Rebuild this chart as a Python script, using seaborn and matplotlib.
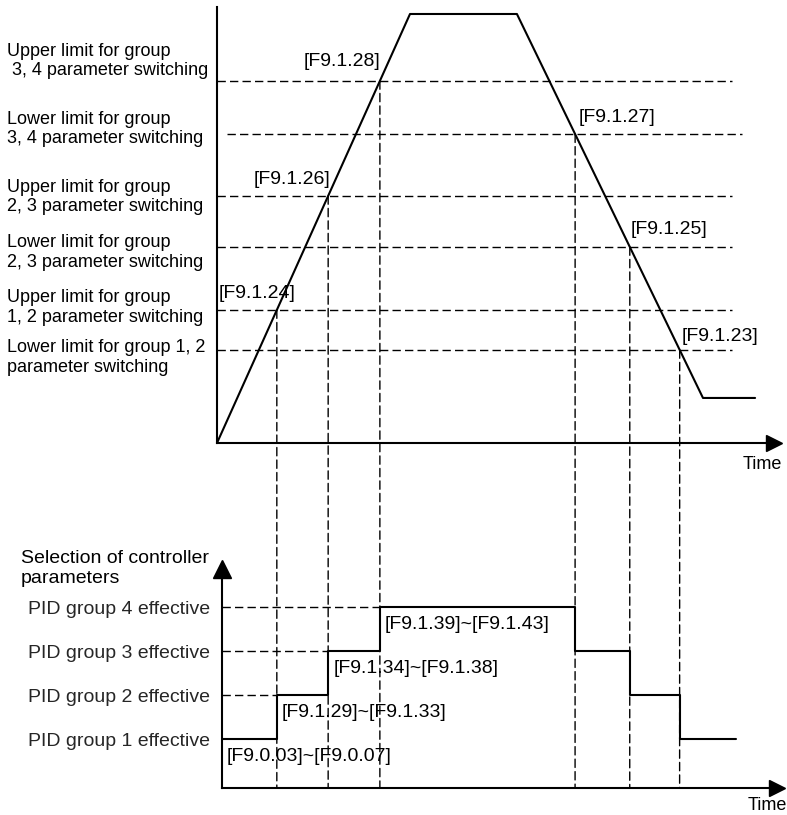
import numpy as np
import matplotlib
matplotlib.use("Agg")
import matplotlib.pyplot as plt
import seaborn as sns
from matplotlib.patches import ConnectionPatch

# Feedback curve (trapezoid): time vs value (% of peak)
time_pts = [0.0, 10.0, 15.54, 25.18, 27.88]
value_pts = [0.0, 100.0, 100.0, 10.5, 10.5]

# Switching thresholds, groups (1,2), (2,3), (3,4)
upper_limits = [31.0, 57.6, 84.4]
lower_limits = [21.7, 45.7, 72.0]
upper_codes = ["[F9.1.24]", "[F9.1.26]", "[F9.1.28]"]
lower_codes = ["[F9.1.23]", "[F9.1.25]", "[F9.1.27]"]

threshold_names = [
    "Lower limit for group 1, 2\nparameter switching",
    "Upper limit for group\n1, 2 parameter switching",
    "Lower limit for group\n2, 3 parameter switching",
    "Upper limit for group\n2, 3 parameter switching",
    "Lower limit for group\n3, 4 parameter switching",
    "Upper limit for group\n 3, 4 parameter switching",
]

# PID groups
groups = [1, 2, 3, 4]
group_names = ["PID group 1 effective", "PID group 2 effective",
               "PID group 3 effective", "PID group 4 effective"]
group_params = ["[F9.0.03]~[F9.0.07]", "[F9.1.29]~[F9.1.33]",
                "[F9.1.34]~[F9.1.38]", "[F9.1.39]~[F9.1.43]"]
step_end = 26.89

W, H = 787, 815
def fx(p):
    return p / W
def fy(p):
    return 1 - p / H

sns.set_theme(style="white")
plt.rcParams['font.family'] = ['Liberation Sans', 'DejaVu Sans']
plt.rcParams['text.color'] = 'black'

fig = plt.figure(figsize=(W / 100, H / 100), dpi=100)
ax_top = fig.add_axes([fx(217), fy(443), (774 - 217) / W, (443 - 7) / H])
ax_bot = fig.add_axes([fx(222), fy(788), (777 - 222) / W, (788 - 569) / H])

dash = (0, (6, 3))
lw_solid = 1.5
lw_dash = 1.0

for ax in (ax_top, ax_bot):
    ax.set_facecolor('none')
    for s in ('top', 'right'):
        ax.spines[s].set_visible(False)
    for s in ('left', 'bottom'):
        ax.spines[s].set_color('black')
        ax.spines[s].set_linewidth(lw_solid)
    ax.set_xticks([])

ax_top.set_xlim(0, 28.86)
ax_top.set_ylim(0, 101.63)
ax_top.set_yticks([])
ax_bot.set_xlim(0.259, 29.02)
ax_bot.set_ylim(-0.1136, 4.864)

# curve
sns.lineplot(x=time_pts, y=value_pts, ax=ax_top, color='black',
             linewidth=lw_solid, zorder=3)

# crossing times
rise_t, rise_v = time_pts[:2], value_pts[:2]
fall_t, fall_v = time_pts[2:4][::-1], value_pts[2:4][::-1]
up_t = [float(np.interp(v, rise_v, rise_t)) for v in upper_limits]
dn_t = [float(np.interp(v, fall_v, fall_t)) for v in lower_limits]

# horizontal threshold lines
for v in upper_limits + lower_limits:
    x0, x1 = 0, 26.7
    if v == lower_limits[2]:
        x0, x1 = 0.52, 27.2
    ax_top.plot([x0, x1], [v, v], color='black', lw=lw_dash, ls=dash, zorder=2)

# vertical dashed lines from crossing down to lower time axis
for t, v in zip(up_t + dn_t, upper_limits + lower_limits):
    con = ConnectionPatch(xyA=(t, v), coordsA=ax_top.transData,
                          xyB=(t, ax_bot.get_ylim()[0]), coordsB=ax_bot.transData,
                          color='black', lw=lw_dash, ls=dash, zorder=0.5)
    fig.add_artist(con)

# threshold codes next to crossings
up_off = [(19, 17), (2, 16), (0, 19)]
dn_off = [(2, 13), (1, 17), (3, 17)]
for t, v, c, o in zip(up_t, upper_limits, upper_codes, up_off):
    ax_top.annotate(c, xy=(t, v), xytext=o, textcoords='offset pixels',
                    ha='right', va='center', fontsize=14)
for t, v, c, o in zip(dn_t, lower_limits, lower_codes, dn_off):
    ax_top.annotate(c, xy=(t, v), xytext=o, textcoords='offset pixels',
                    ha='left', va='center', fontsize=14)

# threshold names on the left
name_y = [357.5, 307.5, 252.5, 197, 129, 61]
for name, y in zip(threshold_names, name_y):
    fig.text(fx(7), fy(y), name, ha='left', va='center', fontsize=13)

# step of effective PID group
x_start = ax_bot.get_xlim()[0]
step_t = [x_start, up_t[0], up_t[1], up_t[2], dn_t[2], dn_t[1], dn_t[0], step_end]
step_g = [1, 2, 3, 4, 3, 2, 1, 1]
sns.lineplot(x=step_t, y=step_g, ax=ax_bot, color='black', linewidth=lw_solid,
             drawstyle='steps-post', zorder=3)

starts = [x_start] + up_t
for g, t in zip(groups[1:], up_t):
    ax_bot.plot([x_start, t], [g, g], color='black', lw=lw_dash, ls=dash, zorder=2)
for g, t, p in zip(groups, starts, group_params):
    ax_bot.annotate(p, xy=(t, g), xytext=(5, -17), textcoords='offset pixels',
                    ha='left', va='center', fontsize=14)

ax_bot.set_yticks(groups, labels=group_names)
ax_bot.tick_params(axis='y', length=0, pad=8.6, labelsize=14)

fig.text(fx(21), fy(568.5), "Selection of controller\nparameters",
         ha='left', va='center', fontsize=14)

# axis arrows
ax_top.plot(1, 0, '>', color='black', markersize=11.5,
            transform=ax_top.transAxes, clip_on=False)
ax_bot.plot(1, 0, '>', color='black', markersize=12,
            transform=ax_bot.transAxes, clip_on=False)
ax_bot.plot(0, 1, '^', color='black', markersize=13,
            transform=ax_bot.transAxes, clip_on=False)

fig.text(fx(743), fy(456), "Time", ha='left', va='top', fontsize=13)
fig.text(fx(748), fy(814), "Time", ha='left', va='bottom', fontsize=13)

fig.savefig("out.png", dpi=100, facecolor='white')
